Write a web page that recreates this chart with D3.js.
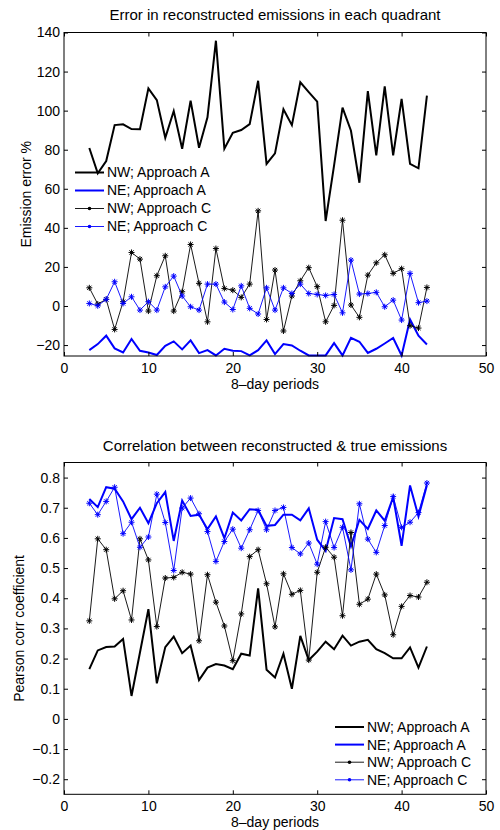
<!DOCTYPE html>
<html>
<head>
<meta charset="utf-8">
<script src="https://cdn.jsdelivr.net/npm/d3@7/dist/d3.min.js"></script>
<style>
  html, body { margin: 0; padding: 0; background: #fff; }
  svg text { font-family: "Liberation Sans", Arial, Helvetica, sans-serif; fill: #000; }
</style>
</head>
<body>
<svg id="chart" width="500" height="830"></svg>
<script>
// ---------- DATA ----------
const periods = [3,4,5,6,7,8,9,10,11,12,13,14,15,16,17,18,19,20,21,22,23,24,25,26,27,28,29,30,31,32,33,34,35,36,37,38,39,40,41,42,43];

const seriesNames = ["NW; Approach A", "NE; Approach A", "NW; Approach C", "NE; Approach C"];

// Top panel: emission error %
const errNW_A = [80.9,67.9,74.2,92.6,93.0,90.6,90.5,111.4,105.4,86.1,
                 99.8,80.5,105.1,81.0,96.6,135.8,80.5,88.7,90.1,93.1,
                 115.3,72.7,78.1,100.7,92.6,114.5,109.5,104.6,43.5,72.0,
                 101.5,89.7,63.1,110.0,77.1,112.4,77.1,106.0,72.8,70.5,107.7];
const errNE_A = [-22.6,-19.5,-15.2,-21.7,-23.8,-16.9,-22.9,-23.8,-25.1,-20.4,
                 -18.1,-22.2,-17.6,-24.1,-22.6,-25.3,-21.9,-22.9,-23.1,-25.3,
                 -22.6,-17.6,-24.6,-19.5,-20.2,-22.9,-25.3,-25.4,-25.3,-19.0,
                 -25.3,-16.3,-18.3,-24.0,-21.9,-19.2,-16.4,-25.3,-6.9,-15.2,-19.7];
const errNW_C = [9.3,1.0,3.4,-12.0,2.2,27.4,24.0,-2.6,15.5,25.7,
                 -2.6,7.3,31.5,11.6,-8.1,29.4,9.0,8.1,4.4,11.2,
                 48.7,-6.9,18.4,-12.8,5.1,12.9,19.6,9.9,-8.1,0.3,
                 43.9,0.5,-5.8,15.8,22.1,26.2,16.7,19.1,-10.1,-11.3,9.5];
const errNE_C = [1.3,0.1,3.4,12.4,1.3,4.7,-2.1,2.2,-2.1,9.8,
                 15.3,5.1,-0.4,-2.1,11.2,11.2,2.0,-1.8,10.3,-1.2,
                 -4.1,9.3,-2.1,9.3,6.4,11.2,6.4,5.9,5.4,5.9,
                 -3.5,23.5,6.1,6.4,7.0,-0.4,3.0,-7.2,16.7,1.7,2.5];

// Bottom panel: Pearson correlation
const corNW_A = [0.165,0.227,0.238,0.240,0.265,0.076,0.220,0.364,0.118,0.238,
                 0.273,0.218,0.243,0.129,0.170,0.182,0.177,0.165,0.216,0.210,
                 0.433,0.163,0.137,0.216,0.100,0.275,0.195,0.223,0.256,0.231,
                 0.276,0.243,0.256,0.262,0.231,0.218,0.201,0.201,0.237,0.170,0.240];
const corNE_A = [0.729,0.702,0.768,0.763,0.721,0.662,0.700,0.649,0.715,0.752,
                 0.590,0.724,0.673,0.677,0.629,0.671,0.599,0.684,0.658,0.695,
                 0.693,0.640,0.643,0.677,0.677,0.658,0.698,0.594,0.557,0.666,
                 0.662,0.572,0.660,0.630,0.691,0.657,0.735,0.574,0.774,0.671,0.775];
const corNW_C = [0.325,0.597,0.561,0.398,0.425,0.328,0.597,0.527,0.306,0.467,
                 0.469,0.486,0.480,0.259,0.478,0.387,0.308,0.193,0.348,0.538,
                 0.561,0.448,0.305,0.481,0.413,0.426,0.195,0.486,0.569,0.536,
                 0.342,0.618,0.380,0.397,0.480,0.411,0.279,0.373,0.409,0.404,0.453];
const corNE_C = [0.715,0.677,0.721,0.768,0.614,0.652,0.569,0.603,0.745,0.651,
                 0.492,0.699,0.732,0.680,0.621,0.522,0.588,0.629,0.566,0.627,
                 0.691,0.627,0.691,0.701,0.568,0.547,0.583,0.513,0.654,0.568,
                 0.635,0.494,0.713,0.596,0.552,0.641,0.737,0.635,0.652,0.684,0.782];

// Tick labels
const xTicks = [0,10,20,30,40,50];
const yTicksTop = [-20,0,20,40,60,80,100,120,140];
const yTicksBottom = [-0.2,-0.1,0,0.1,0.2,0.3,0.4,0.5,0.6,0.7,0.8];

// ---------- DRAWING ----------
const svg = d3.select("#chart");
const styles = [
  {color: "#000000", width: 2,   marker: false},
  {color: "#0000ff", width: 2,   marker: false},
  {color: "#000000", width: 0.9, marker: true},
  {color: "#0000ff", width: 0.9, marker: true}
];

function starPath(r) {
  const a = r * 0.7071;
  return `M${-r},0L${r},0M0,${-r}L0,${r}M${-a},${-a}L${a},${a}M${-a},${a}L${a},${-a}`;
}

const fmt = d => String(d).replace("-", "\u2212");

function panel(cfg) {
  const L = 64, R = 486;
  const x = d3.scaleLinear().domain([0, 50]).range([L, R]);
  const y = d3.scaleLinear().domain(cfg.yDomain).range([cfg.bottom, cfg.top]);
  const g = svg.append("g");

  // data lines
  cfg.series.forEach((vals, i) => {
    const st = styles[i];
    const pts = periods.map((p, j) => [p, vals[j]]);
    const line = d3.line().x(d => x(d[0])).y(d => y(d[1]));
    g.append("path").attr("d", line(pts))
      .attr("fill", "none").attr("stroke", st.color)
      .attr("stroke-width", st.width).attr("stroke-linejoin", "miter");
    if (st.marker) {
      g.selectAll(null).data(pts).enter().append("path")
        .attr("d", starPath(3))
        .attr("transform", d => `translate(${x(d[0])},${y(d[1])})`)
        .attr("stroke", st.color).attr("stroke-width", 1).attr("fill", "none");
    }
  });

  // axes
  const ax = g.append("g");
  ax.append("g").attr("transform", `translate(0,${cfg.bottom})`)
    .call(d3.axisBottom(x).tickValues(xTicks).tickFormat(fmt).tickSize(-4).tickSizeOuter(0).tickPadding(7));
  ax.append("g").attr("transform", `translate(0,${cfg.top})`)
    .call(d3.axisTop(x).tickValues(xTicks).tickFormat("").tickSize(-4).tickSizeOuter(0));
  ax.append("g").attr("transform", `translate(${L},0)`)
    .call(d3.axisLeft(y).tickValues(cfg.yTicks).tickFormat(fmt).tickSize(-4).tickSizeOuter(0).tickPadding(4));
  ax.append("g").attr("transform", `translate(${R},0)`)
    .call(d3.axisRight(y).tickValues(cfg.yTicks).tickFormat("").tickSize(-4).tickSizeOuter(0));
  ax.selectAll(".domain").remove();
  ax.selectAll("g").attr("font-size", null).attr("font-family", null);
  ax.selectAll(".tick line").attr("stroke", "#000").attr("stroke-width", 1);
  ax.selectAll("text").attr("font-family", "Liberation Sans, Arial, sans-serif")
    .attr("font-size", 14).attr("fill", "#000");

  g.append("rect").attr("x", L).attr("y", cfg.top)
    .attr("width", R - L).attr("height", cfg.bottom - cfg.top)
    .attr("fill", "none").attr("stroke", "#000").attr("stroke-width", 1);

  // title and labels
  g.append("text").attr("x", (L + R) / 2).attr("y", cfg.titleY)
    .attr("text-anchor", "middle").attr("font-size", 15).text(cfg.title);
  g.append("text").attr("x", (L + R) / 2).attr("y", cfg.bottom + 33)
    .attr("text-anchor", "middle").attr("font-size", 14).text("8\u2013day periods");
  g.append("text")
    .attr("transform", `translate(${cfg.yLabelX},${(cfg.top + cfg.bottom) / 2}) rotate(-90)`)
    .attr("text-anchor", "middle").attr("dy", "0.35em").attr("font-size", 14).text(cfg.yLabel);

  // legend (no box)
  seriesNames.forEach((name, i) => {
    const st = styles[i];
    const ly = cfg.legendY + i * cfg.legendStep;
    const lx = cfg.legendX;
    g.append("line").attr("x1", lx).attr("x2", lx + 29).attr("y1", ly).attr("y2", ly)
      .attr("stroke", st.color).attr("stroke-width", st.width);
    if (st.marker) {
      g.append("circle").attr("cx", lx + 14.5).attr("cy", ly).attr("r", 1.8).attr("fill", st.color);
    }
    g.append("text").attr("x", lx + 32).attr("y", ly).attr("dy", "0.35em")
      .attr("font-size", 14).text(name);
  });
}

panel({
  top: 32.5, bottom: 356, yDomain: [-25.6, 140], yTicks: yTicksTop,
  series: [errNW_A, errNE_A, errNW_C, errNE_C],
  title: "Error in reconstructed emissions in each quadrant", titleY: 20,
  yLabel: "Emission error %", yLabelX: 26,
  legendX: 75, legendY: 172.5, legendStep: 18
});

panel({
  top: 462.5, bottom: 794.3, yDomain: [-0.25, 0.85], yTicks: yTicksBottom,
  series: [corNW_A, corNE_A, corNW_C, corNE_C],
  title: "Correlation between reconstructed & true emissions", titleY: 451,
  yLabel: "Pearson corr coefficient", yLabelX: 19,
  legendX: 335, legendY: 727, legendStep: 17.6
});
</script>
</body>
</html>
